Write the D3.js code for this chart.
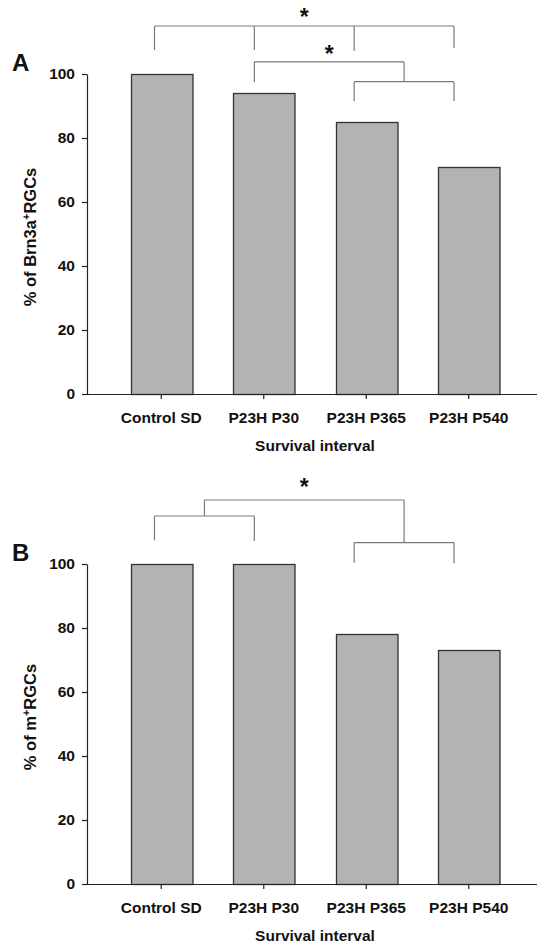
<!DOCTYPE html>
<html lang="en">
<head>
    <meta charset="UTF-8">
    <title>RGC survival</title>
    <script src="https://d3js.org/d3.v7.min.js"></script>
    <style>
        body { margin: 0; background: #fff; }
        text { font-family: "Liberation Sans", Arial, sans-serif; font-weight: bold; fill: #111; }
    </style>
</head>
<body>
<div class="canvas"></div>
<script>
  // data
  const categories = ['Control SD', 'P23H P30', 'P23H P365', 'P23H P540']
  const brn3aValues = [100, 94, 85, 71]
  const mValues = [100, 100, 78, 73]
  const yTicks = [0, 20, 40, 60, 80, 100]
  const xTitle = 'Survival interval'

  const width = 537
  const height = 944
  const axisX = 87

  const svg = d3.select('.canvas')
    .append('svg')
    .attr('width', width)
    .attr('height', height)

  const x = d3.scaleBand()
    .domain(categories)
    .range([110, 520])
    .paddingInner(0.4)
    .paddingOuter(0.2)

  // bracket drops in the figure sit a little left of the bar centres
  const bx = d3.scalePoint()
    .domain(categories)
    .range([154.5, 454])

  const mid = (a, b) => (bx(a) + bx(b)) / 2

  const panels = [
    {
      letter: 'A', values: brn3aValues, top: 74, bottom: 394,
      label: ['% of Brn3a', '+', 'RGCs'], labelY: 237,
      brackets: [
        { xs: categories.map(c => bx(c)), level: 115, drops: [107.5, 107.5, 107.2, 108.2], star: 115.3 },
        { xs: [bx('P23H P365'), bx('P23H P540')], level: 97.6, drops: [91.6, 91.6] },
        { xs: [bx('P23H P30'), mid('P23H P365', 'P23H P540')], level: 103.8, drops: [97.4, 97.6], star: 103.8 }
      ]
    },
    {
      letter: 'B', values: mValues, top: 564, bottom: 884,
      label: ['% of m', '+', 'RGCs'], labelY: 717,
      brackets: [
        { xs: [bx('Control SD'), bx('P23H P30')], level: 115, drops: [107.4, 107.2] },
        { xs: [bx('P23H P365'), bx('P23H P540')], level: 106.7, drops: [100.4, 100.2] },
        { xs: [mid('Control SD', 'P23H P30'), mid('P23H P365', 'P23H P540')], level: 120, drops: [115, 106.7], star: 121.6 }
      ]
    }
  ]

  panels.forEach(p => {
    const y = d3.scaleLinear()
      .domain([0, 100])
      .range([p.bottom, p.top])

    const g = svg.append('g')

    // bars
    g.selectAll('rect')
      .data(p.values)
      .enter()
      .append('rect')
      .attr('x', (d, i) => Math.round(x(categories[i])) + 0.5)
      .attr('y', d => Math.round(y(d)) + 0.5)
      .attr('width', x.bandwidth())
      .attr('height', d => y(0) - Math.round(y(d)))
      .attr('fill', '#b3b3b3')
      .attr('stroke', '#333')
      .attr('stroke-width', 1.3)

    // axes
    const yAxisG = g.append('g')
      .attr('transform', `translate(${axisX}, 0)`)
      .call(d3.axisLeft(y).tickValues(yTicks).tickSize(5).tickSizeOuter(0).tickPadding(7))

    const xAxisG = g.append('g')
      .attr('transform', `translate(0, ${p.bottom})`)
      .call(d3.axisBottom(x).tickSize(5).tickSizeOuter(0).tickPadding(13))

    xAxisG.select('.domain').attr('d', `M${axisX},0.5H${width}`)

    ;[yAxisG, xAxisG].forEach(a => {
      a.attr('font-family', null).attr('font-size', null)
      a.selectAll('path, line').attr('stroke', '#222').attr('stroke-width', 1.2)
      a.selectAll('text').style('font-size', '15.5px').attr('fill', '#111')
    })

    // axis titles
    g.append('text')
      .attr('x', (x.range()[0] + x.range()[1]) / 2 + 0)
      .attr('y', p.bottom + 57)
      .attr('text-anchor', 'middle')
      .style('font-size', '15.5px')
      .text(xTitle)

    const yl = g.append('text')
      .attr('transform', `translate(36, ${p.labelY}) rotate(-90)`)
      .attr('text-anchor', 'middle')
      .style('font-size', '16.5px')
    yl.append('tspan').text(p.label[0])
    yl.append('tspan').attr('dy', -6).style('font-size', '11px').text(p.label[1])
    yl.append('tspan').attr('dy', 6).text(p.label[2])

    // panel letter
    g.append('text')
      .attr('x', 12)
      .attr('y', p.top - 3)
      .style('font-size', '24px')
      .text(p.letter)

    // significance brackets
    p.brackets.forEach(b => {
      const ly = y(b.level)
      g.append('line')
        .attr('x1', b.xs[0]).attr('x2', b.xs[b.xs.length - 1])
        .attr('y1', ly).attr('y2', ly)
        .attr('stroke', '#7a7a7a').attr('stroke-width', 1.2)
      b.xs.forEach((bxv, i) => {
        g.append('line')
          .attr('x1', bxv).attr('x2', bxv)
          .attr('y1', ly).attr('y2', y(b.drops[i]))
          .attr('stroke', '#7a7a7a').attr('stroke-width', 1.2)
      })
      if (b.star !== undefined) {
        g.append('text')
          .attr('x', (b.xs[0] + b.xs[b.xs.length - 1]) / 2)
          .attr('y', y(b.star))
          .attr('text-anchor', 'middle')
          .style('font-size', '23px')
          .text('*')
      }
    })
  })
</script>
</body>
</html>
